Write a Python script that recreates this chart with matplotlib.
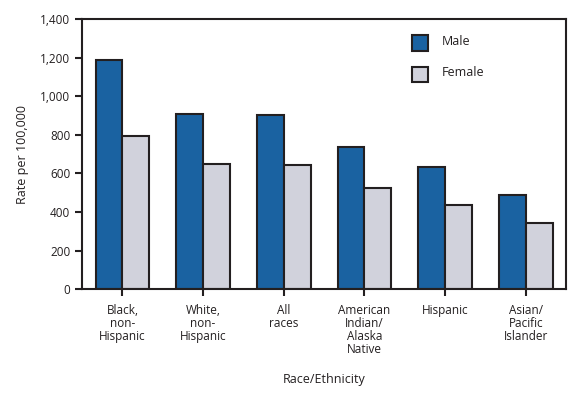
import matplotlib
matplotlib.use('Agg')
import matplotlib.pyplot as plt
import numpy as np
from matplotlib.patches import Rectangle

groups = ['Black,\nnon-\nHispanic', 'White,\nnon-\nHispanic', 'All\nraces',
          'American\nIndian/\nAlaska\nNative', 'Hispanic', 'Asian/\nPacific\nIslander']
male = [1185, 905, 900, 735, 635, 490]
female = [792, 646, 641, 525, 437, 345]
yticks = [0, 200, 400, 600, 800, 1000, 1200, 1400]

ink = '#231f20'
male_c = '#1a62a1'
female_c = '#d1d2dc'

plt.rcParams['font.family'] = ['Open Sans', 'DejaVu Sans']

fig = plt.figure(figsize=(5.86, 3.95), dpi=100)
ax = fig.add_axes([0.140, 0.268, 0.826, 0.684])

x = np.arange(len(groups))
w = 0.333
ax.bar(x - w / 2, male, w, color=male_c, edgecolor=ink, linewidth=1.5, label='Male')
ax.bar(x + w / 2, female, w, color=female_c, edgecolor=ink, linewidth=1.5, label='Female')

ax.set_xlim(-0.5, 5.5)
ax.set_ylim(0, 1400)
ax.set_yticks(yticks)
ax.set_yticklabels([f'{v:,}' for v in yticks], fontsize=8.5, color=ink)
ax.set_xticks(x)
ax.set_xticklabels(groups, fontsize=8.5, color=ink, linespacing=1.0)
ax.tick_params(axis='both', direction='out', length=5, width=1.5, color=ink)
ax.tick_params(axis='x', pad=6)
for s in ax.spines.values():
    s.set_color(ink)
    s.set_linewidth(1.5)

ax.set_ylabel('Rate per 100,000', fontsize=9, color=ink, labelpad=8)
ax.set_xlabel('Race/Ethnicity', fontsize=9, color=ink, labelpad=12)

# legend drawn by hand to match the boxed swatches
for yy, c, lab in [(1275, male_c, 'Male'), (1112, female_c, 'Female')]:
    ax.add_patch(Rectangle((3.59, yy - 41), 0.195, 82, facecolor=c, edgecolor=ink,
                           linewidth=1.5, clip_on=False))
    ax.text(3.96, yy + 8, lab, fontsize=9, color=ink, va='center')

fig.savefig('out.png', dpi=100)
